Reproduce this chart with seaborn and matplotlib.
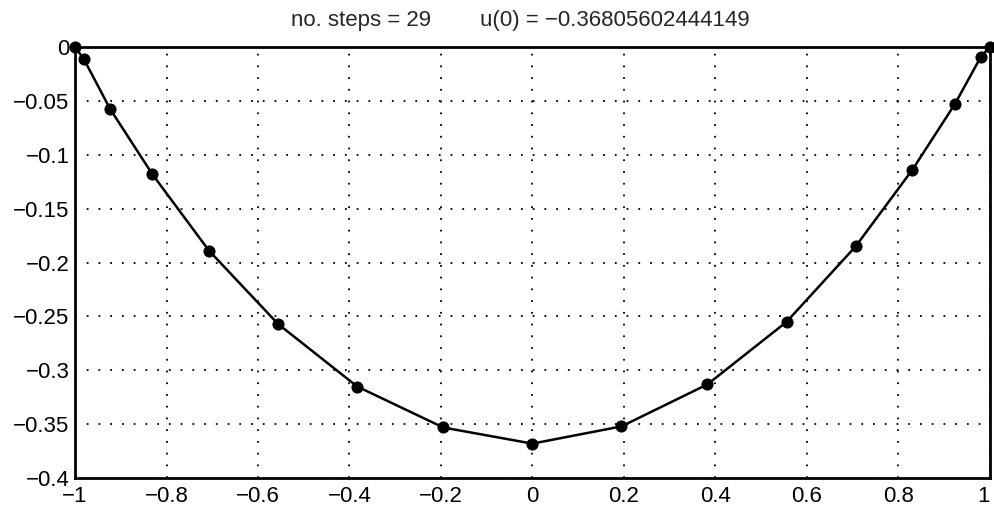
import numpy as np
import pandas as pd
import matplotlib
matplotlib.use("Agg")
import matplotlib.pyplot as plt
import seaborn as sns

# Chebyshev points (N = 16) and solution values
x_vals = [-1.0, -0.981, -0.924, -0.831, -0.707, -0.556, -0.383, -0.195, 0.0,
          0.195, 0.383, 0.556, 0.707, 0.831, 0.924, 0.981, 1.0]
u_vals = [0.0, -0.011, -0.057, -0.118, -0.189, -0.257, -0.315, -0.353, -0.368,
          -0.352, -0.313, -0.255, -0.185, -0.114, -0.053, -0.009, 0.0]
x_ticks = [-1, -0.8, -0.6, -0.4, -0.2, 0, 0.2, 0.4, 0.6, 0.8, 1]
x_tick_labels = ["\u22121", "\u22120.8", "\u22120.6", "\u22120.4", "\u22120.2", "0",
                 "0.2", "0.4", "0.6", "0.8", "1"]
y_ticks = [-0.4, -0.35, -0.3, -0.25, -0.2, -0.15, -0.1, -0.05, 0]
y_tick_labels = ["\u22120.4", "\u22120.35", "\u22120.3", "\u22120.25", "\u22120.2",
                 "\u22120.15", "\u22120.1", "\u22120.05", "0"]
title = "no. steps = 29        u(0) = \u22120.36805602444149"

df = pd.DataFrame({"x": x_vals, "u": u_vals})

sns.set_theme(style="white")
plt.rcParams["font.family"] = ["Liberation Sans", "DejaVu Sans"]

fig = plt.figure(figsize=(9.95, 5.07), dpi=100)
ax = fig.add_axes([0.0755, 0.057, 0.919, 0.850])

sns.lineplot(data=df, x="x", y="u", ax=ax, color="black", linewidth=1.8,
             sort=False, estimator=None)
sns.scatterplot(data=df, x="x", y="u", ax=ax, color="black", s=65,
                edgecolor="black", zorder=5, clip_on=False)

ax.set_xlim(-1, 1)
ax.set_ylim(-0.4, 0)
ax.set_xticks(x_ticks)
ax.set_xticklabels(x_tick_labels)
ax.set_yticks(y_ticks)
ax.set_yticklabels(y_tick_labels)
ax.set_xlabel("")
ax.set_ylabel("")
ax.grid(True, color="black", linestyle=(0, (1, 5.5)), linewidth=1.3)
ax.tick_params(direction="in", length=6, width=1.6, labelsize=16, colors="black",
               top=False, right=False)
ax.tick_params(axis="x", pad=6)
ax.tick_params(axis="y", pad=4)
ax.get_xticklabels()[-1].set_horizontalalignment("right")
for s in ax.spines.values():
    s.set_linewidth(2)
    s.set_color("black")
ax.set_title(title, fontsize=16, pad=15, x=0.487)

fig.savefig("out.png", dpi=100)
